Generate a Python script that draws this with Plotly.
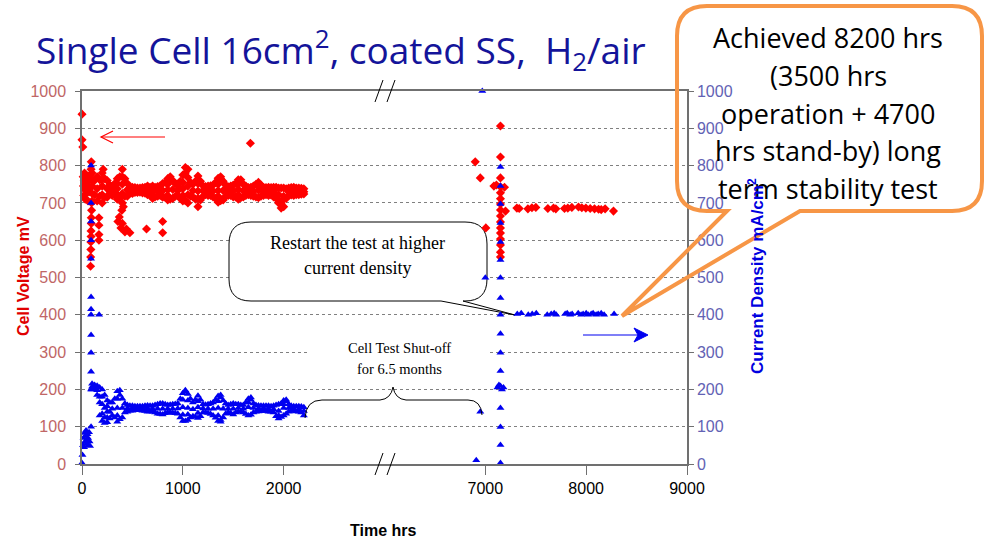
import plotly.graph_objects as go

# ---------------- data ----------------
# column times (hrs) for the dense first test period
col_t = [100, 150, 200, 250, 300, 350, 400, 450, 500, 550, 600, 650, 700, 750, 800,
         850, 900, 950, 1000, 1050, 1100, 1150, 1200, 1250, 1300, 1350, 1400, 1450,
         1500, 1550, 1600, 1650, 1700, 1750, 1800, 1850, 1900, 1950, 2000, 2050,
         2100, 2150, 2200]

volt_hi = [780, 770, 780, 760, 745, 765, 790, 752, 742, 740, 741, 745, 745, 744, 752,
           765, 760, 746, 775, 790, 750, 772, 746, 745, 748, 766, 758, 743,
           748, 762, 750, 741, 745, 755, 742, 742, 742, 740, 740, 740,
           742, 740, 738]
volt_mid = [745, 738, 745, 738, 732, 738, 750, 735, 734, 734, 734, 734, 730, 732, 733,
            735, 736, 733, 738, 745, 733, 732, 733, 733, 732, 733, 733, 732,
            732, 736, 733, 731, 731, 734, 731, 731, 730, 722, 718, 730,
            731, 731, 730]
volt_lo = [705, 705, 700, 715, 720, 710, 700, 718, 725, 728, 727, 722, 712, 718, 715,
           708, 712, 720, 705, 700, 716, 690, 718, 720, 716, 702, 708, 720,
           716, 710, 716, 722, 718, 714, 720, 720, 716, 700, 690, 720,
           720, 722, 724]

cur_hi = [215, 210, 200, 170, 165, 195, 175, 158, 156, 155, 155, 157, 156, 160, 162,
          158, 160, 162, 190, 188, 165, 183, 160, 160, 165, 182, 170, 158,
          162, 160, 158, 175, 162, 157, 156, 156, 156, 160, 170, 160,
          155, 155, 152]
cur_mid = [207, 198, 160, 140, 148, 150, 150, 149, 150, 150, 149, 149, 148, 148, 148,
           148, 148, 149, 152, 150, 147, 152, 149, 148, 148, 150, 148, 148,
           148, 150, 148, 152, 150, 149, 149, 148, 147, 142, 150, 150,
           148, 147, 142]
cur_lo = [200, 185, 115, 112, 130, 113, 125, 140, 143, 144, 143, 140, 140, 135, 133,
          138, 137, 135, 115, 118, 128, 123, 138, 137, 130, 115, 125, 138,
          133, 140, 138, 130, 138, 141, 142, 140, 138, 122, 130, 140,
          142, 140, 130]

# in-between column times with an upper and a lower reading each
col_t2 = [125, 175, 225, 275, 325, 375, 425, 475, 525, 575, 625, 675, 725, 775,
          825, 875, 925, 975, 1025, 1075, 1125, 1175, 1225, 1275, 1325, 1375, 1425,
          1475, 1525, 1575, 1625, 1675, 1725, 1775, 1825, 1875, 1925, 1975, 2025,
          2075, 2125, 2175]
volt_u2 = [760, 762, 765, 748, 752, 770, 765, 742, 741, 740, 742, 742, 742, 746,
           755, 762, 752, 758, 780, 755, 758, 758, 744, 746, 755, 765, 748,
           745, 752, 756, 745, 742, 750, 748, 741, 741, 742, 740, 738,
           741, 740, 739]
volt_l2 = [722, 718, 715, 725, 722, 712, 718, 726, 728, 729, 726, 722, 716, 720,
           715, 710, 718, 712, 706, 718, 710, 708, 722, 720, 712, 706, 718,
           720, 716, 714, 720, 720, 716, 718, 722, 721, 712, 700, 712,
           721, 722, 723]
cur_u2 = [212, 205, 185, 165, 175, 185, 162, 156, 155, 155, 156, 156, 158, 162,
          160, 159, 161, 175, 195, 175, 172, 172, 159, 162, 172, 178, 162,
          160, 160, 158, 165, 172, 158, 156, 156, 155, 158, 162, 168,
          156, 155, 154]
cur_l2 = [202, 165, 125, 122, 125, 120, 138, 143, 144, 144, 142, 141, 138, 134,
          136, 138, 136, 125, 115, 125, 126, 128, 138, 134, 124, 118, 135,
          136, 138, 140, 134, 132, 140, 142, 142, 140, 128, 126, 135,
          142, 141, 138]

# individual voltage points (start-up, spikes, scatter) - first period
volt_pt_t = [0, 0, 8, 12, 15, 18, 22, 25, 28, 32, 35, 40, 45, 50, 55, 60, 65, 70, 75, 80,
             85, 86, 88, 88, 90, 90, 92, 92, 95, 95, 90, 92,
             168, 168, 168, 168,
             100, 100, 200, 200, 210, 350, 350, 400, 400, 850, 850, 875, 1000, 1000,
             1025, 1050, 1050, 1150, 1150, 1350, 1350, 1375, 1550, 1550, 1575, 1750,
             1975, 1975,
             356, 370, 386, 395, 400, 410, 426, 440, 475, 640, 800, 800, 1670]
volt_pt_v = [938, 869, 850, 770, 745, 720, 760, 780, 735, 710, 765, 750, 725, 740, 770, 705, 745, 760, 730, 775,
             530, 555, 575, 595, 610, 625, 645, 660, 680, 700, 790, 810,
             600, 615, 640, 660,
             762, 725, 762, 722, 790, 752, 722, 770, 725, 750, 720, 770, 755, 720,
             795, 768, 722, 752, 712, 750, 718, 770, 750, 722, 762, 745,
             686, 705,
             650, 662, 633, 680, 645, 690, 622, 630, 620, 630, 650, 620, 860]

# individual current-density points - first period
cur_pt_t = [0, 5, 10, 15, 20, 25, 30, 35, 40, 45, 50, 55, 60, 65, 70, 75, 80,
            90, 90, 90, 90, 90, 90, 90, 90, 90, 90, 90, 90, 90, 170,
            125, 175, 175, 200, 200, 225, 225, 250, 250, 275,
            350, 350, 375, 1000, 1000, 1025, 1050, 1050, 1150, 1150, 1350, 1350,
            1375, 1375, 1650, 1675, 1950, 2000, 2025]
cur_pt_v = [3, 24, 50, 70, 45, 83, 60, 75, 90, 55, 65, 80, 70, 50, 85, 60, 48,
            100, 200, 247, 298, 346, 400, 415, 448, 550, 600, 650, 700, 800, 400,
            205, 180, 130, 180, 135, 110, 150, 155, 125, 140,
            175, 130, 198, 172, 132, 198, 170, 133, 168, 137, 168, 130,
            185, 113, 165, 178, 130, 160, 172]

# restart period (real hours)
volt_rs_t = [6900, 6950, 7005,
             7150, 7150, 7150, 7150, 7150, 7150, 7150, 7150, 7150, 7150, 7150, 7150,
             7150, 7150, 7150, 7150,
             7085, 7110, 7190, 7200,
             7313, 7336, 7422, 7462, 7501, 7620, 7676, 7699, 7785, 7818, 7858, 7924,
             7957, 7997, 8040, 8083, 8123, 8149, 8188, 8271]
volt_rs_v = [810, 767, 633,
             906, 823, 767, 743, 727, 711, 697, 681, 665, 649, 633, 619,
             603, 587, 568, 555,
             745, 748, 742, 678,
             686, 685, 684, 687, 688, 685, 686, 684, 685, 686, 688, 689,
             687, 686, 685, 684, 683, 682, 684, 678]

cur_rs_t = [6910, 6950, 6970, 7000,
            7150, 7150, 7150, 7150, 7150, 7150, 7150, 7150, 7150, 7150, 7150, 7150,
            7150, 7150, 7150, 7150, 7150,
            7120, 7135, 7165, 7180,
            7317, 7356, 7426, 7465, 7505, 7614, 7653, 7683, 7703, 7792, 7812, 7842,
            7861, 7921, 7950, 7970, 8000, 8020, 8050, 8069, 8099, 8119, 8149, 8178, 8277]
cur_rs_v = [10, 140, 1000, 499,
            796, 745, 697, 646, 595, 547, 499, 445, 400, 349, 298, 249,
            209, 150, 99, 51, 3,
            205, 212, 200, 205,
            402, 404, 400, 402, 404, 400, 402, 404, 400, 402, 404, 400,
            402, 404, 400, 402, 404, 400, 402, 404, 400, 402, 404, 400, 402]

x_tick_hours = [0, 1000, 2000, 7000, 8000, 9000]
x_tick_text = ["0", "1000", "2000", "7000", "8000", "9000"]
y_ticks = [0, 100, 200, 300, 400, 500, 600, 700, 800, 900, 1000]

# broken time axis: hours >= 5000 are shifted left by 3000
GAP = 3000


def brk(hours):
    return [h - GAP if h >= 5000 else h for h in hours]


# ---------------- geometry helpers (pixel -> paper / data) ----------------
W, H = 986, 540
L, R, T, B = 82, 687, 91, 464
XMAX = 6000


def xp(px):
    return (px - L) / (R - L)


def yp(py):
    return (B - py) / (B - T)


def xd(px):
    return (px - L) / (R - L) * XMAX


def yd(py):
    return (B - py) / (B - T) * 1000


def pp(px, py):
    return f"{xp(px):.5f},{yp(py):.5f}"


def pd(px, py):
    return f"{xd(px):.3f},{yd(py):.3f}"


RED = "#FF0000"
BLUE = "#0000F0"

fig = go.Figure()

v_x = brk(col_t * 3 + col_t2 * 2 + volt_pt_t + volt_rs_t)
v_y = volt_hi + volt_mid + volt_lo + volt_u2 + volt_l2 + volt_pt_v + volt_rs_v
fig.add_trace(go.Scatter(x=v_x, y=v_y, mode="markers", name="Cell Voltage",
                         cliponaxis=False,
                         marker=dict(symbol="diamond", size=7, color=RED, line=dict(width=0)),
                         showlegend=False))

c_x = brk(col_t * 3 + col_t2 * 2 + cur_pt_t + cur_rs_t)
c_y = cur_hi + cur_mid + cur_lo + cur_u2 + cur_l2 + cur_pt_v + cur_rs_v
fig.add_trace(go.Scatter(x=c_x, y=c_y, mode="markers", name="Current Density",
                         yaxis="y2", cliponaxis=False,
                         marker=dict(symbol="triangle-up", size=7, color=BLUE, line=dict(width=0)),
                         showlegend=False))

AX = "#707070"
fig.update_layout(
    width=W, height=H,
    margin=dict(l=L, r=W - R, t=T, b=H - B),
    paper_bgcolor="white", plot_bgcolor="white",
    xaxis=dict(range=[0, XMAX], tickvals=brk(x_tick_hours), ticktext=x_tick_text,
               showgrid=False, zeroline=False, showline=True, linecolor=AX, linewidth=1.5,
               mirror=True, ticks="outside", ticklen=9, tickcolor=AX, tickwidth=1,
               tickfont=dict(family="Liberation Sans, Arial", size=16, color="black")),
    yaxis=dict(range=[0, 1000], tickvals=y_ticks, showgrid=True, gridcolor="#808080",
               griddash="3px,3px", gridwidth=1.2, zeroline=False, showline=True,
               linecolor=AX, linewidth=1.5, ticks="outside", ticklen=5, tickcolor=AX,
               ticklabelstandoff=6,
               tickfont=dict(family="Liberation Sans, Arial", size=16, color="#C06666")),
    yaxis2=dict(range=[0, 1000], tickvals=y_ticks, overlaying="y", side="right",
                showgrid=False, zeroline=False, showline=True, linecolor=AX, linewidth=1.5,
                ticks="outside", ticklen=5, tickcolor=AX,
                tickfont=dict(family="Liberation Sans, Arial", size=16, color="#6262B4")),
)

shapes = []
# white patch behind "Cell Test Shut-off" text (hides gridline)
shapes.append(dict(type="rect", xref="x", yref="y", layer="between",
                   x0=xd(308), x1=xd(488), y0=yd(378), y1=yd(336),
                   fillcolor="white", line=dict(width=0)))
# "Restart" callout (rounded box with pointer)
r = 22
l_, t_, r_, b_ = 229, 222, 487, 301
path = (f"M {pd(l_ + r, t_)} L {pd(r_ - r, t_)} Q {pd(r_, t_)} {pd(r_, t_ + r)} "
        f"L {pd(r_, b_ - r)} Q {pd(r_, b_)} {pd(r_ - r, b_)} L {pd(463, b_)} "
        f"L {pd(515, 315)} L {pd(441, b_)} L {pd(l_ + r, b_)} Q {pd(l_, b_)} {pd(l_, b_ - r)} "
        f"L {pd(l_, t_ + r)} Q {pd(l_, t_)} {pd(l_ + r, t_)} Z")
shapes.append(dict(type="path", xref="x", yref="y", layer="between", path=path,
                   fillcolor="white", line=dict(color="black", width=1)))
# brace
brace = (f"M {pp(305, 418)} Q {pp(306, 400)} {pp(322, 400)} L {pp(380, 400)} "
         f"Q {pp(391, 399)} {pp(393, 387)} Q {pp(395, 399)} {pp(406, 400)} "
         f"L {pp(468, 400)} Q {pp(481, 400)} {pp(482, 415)}")
shapes.append(dict(type="path", xref="paper", yref="paper", layer="above", path=brace,
                   line=dict(color="black", width=1)))
# orange callout
r = 30
l_, t_, r_, b_ = 677, 6, 982, 211
opath = (f"M {pp(l_ + r, t_)} L {pp(r_ - r, t_)} Q {pp(r_, t_)} {pp(r_, t_ + r)} "
         f"L {pp(r_, b_ - r)} Q {pp(r_, b_)} {pp(r_ - r, b_)} L {pp(800, b_)} "
         f"L {pp(622, 316)} L {pp(727, b_)} L {pp(l_ + r, b_)} Q {pp(l_, b_)} {pp(l_, b_ - r)} "
         f"L {pp(l_, t_ + r)} Q {pp(l_, t_)} {pp(l_ + r, t_)} Z")
shapes.append(dict(type="path", xref="paper", yref="paper", layer="above", path=opath,
                   line=dict(color="#F79646", width=4)))
# axis break marks
for yb in (91, 464):
    for xc in (379, 391):
        shapes.append(dict(type="line", xref="paper", yref="paper", layer="above",
                           x0=xp(xc - 4), y0=yp(yb + 11), x1=xp(xc + 4), y1=yp(yb - 11),
                           line=dict(color="black", width=1)))
# red arrow (pointing left, open head)
shapes.append(dict(type="line", xref="paper", yref="paper", layer="above",
                   x0=xp(101), y0=yp(137), x1=xp(165), y1=yp(137),
                   line=dict(color=RED, width=1.2)))
shapes.append(dict(type="path", xref="paper", yref="paper", layer="above",
                   path=f"M {pp(113, 131)} L {pp(101, 137)} L {pp(113, 143)}",
                   line=dict(color=RED, width=1.2)))
# blue arrow (pointing right, filled head)
shapes.append(dict(type="line", xref="paper", yref="paper", layer="above",
                   x0=xp(583), y0=yp(335), x1=xp(640), y1=yp(335),
                   line=dict(color=BLUE, width=1.2)))
shapes.append(dict(type="path", xref="paper", yref="paper", layer="above",
                   path=f"M {pp(634, 328)} L {pp(648, 335)} L {pp(634, 342)} L {pp(638, 335)} Z",
                   fillcolor=BLUE, line=dict(color=BLUE, width=1)))
fig.update_layout(shapes=shapes)

ann = []


def txt(x, y, s, size, color="black", family="Open Sans", **kw):
    ann.append(dict(x=xp(x), y=yp(y), xref="paper", yref="paper", text=s, showarrow=False,
                    font=dict(family=family, size=size, color=color),
                    xanchor=kw.pop("xanchor", "center"), yanchor="middle", **kw))


txt(34, 50, "Single Cell 16cm<sup>2</sup>, coated SS,&nbsp; H<sub>2</sub>/air", 37,
    color="#14149A", xanchor="left")
for i, line in enumerate(["Achieved 8200 hrs", "(3500 hrs", "operation + 4700",
                          "hrs stand-by) long", "term stability test"]):
    txt(828, 38 + 37.5 * i, line, 27)
txt(357, 243, "Restart the test at higher", 18, family="Liberation Serif")
txt(357, 268, "current density", 18, family="Liberation Serif")
txt(399, 348, "Cell Test Shut-off", 14.5, family="Liberation Serif")
txt(399, 369, "for 6.5 months", 14.5, family="Liberation Serif")
txt(23, 276, "<b>Cell Voltage mV</b>", 16, color="#E00000", family="Liberation Sans, Arial",
    textangle=-90)
txt(756, 276, "<b>Current Density mA/cm<sup>2</sup></b>", 17, color="#0000E0",
    family="Liberation Sans, Arial", textangle=-90)
txt(383, 530, "<b>Time hrs</b>", 16, family="Liberation Sans, Arial")
fig.update_layout(annotations=ann)

fig.write_html("out.html")
